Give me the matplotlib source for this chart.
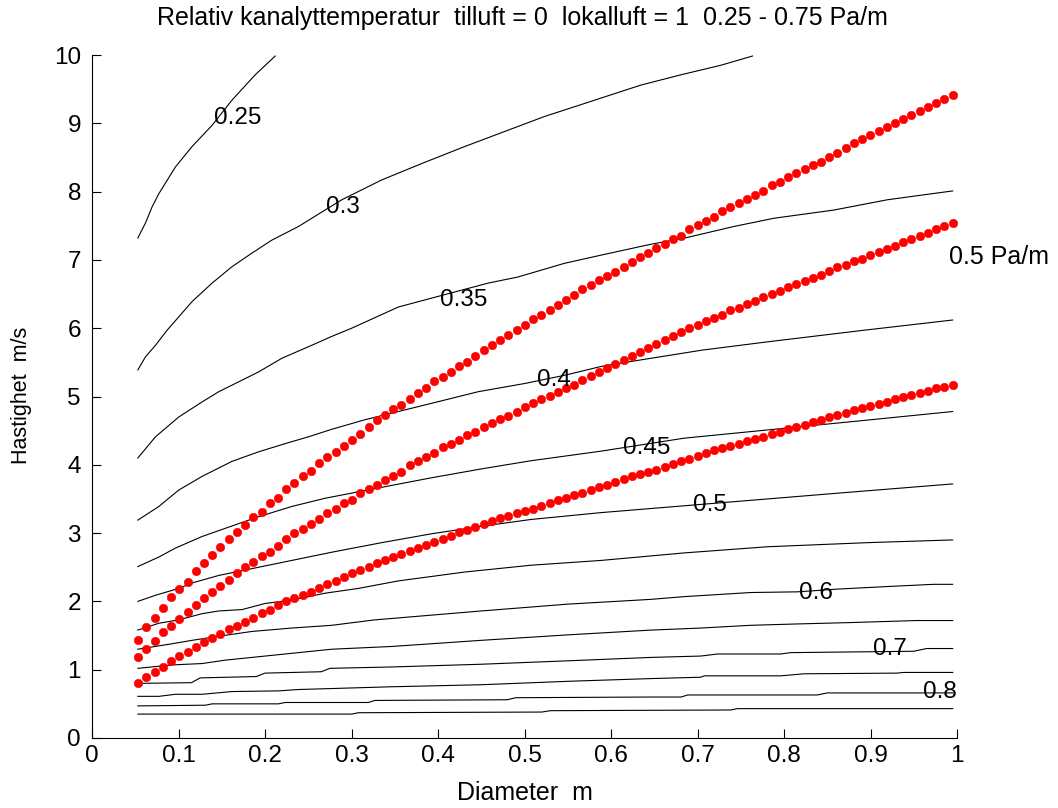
import numpy as np
import matplotlib
matplotlib.use("Agg")
import matplotlib.pyplot as plt

plt.rcParams['font.family'] = ['Liberation Sans', 'DejaVu Sans']

# ---------------- data ----------------
TITLE = "Relativ kanalyttemperatur  tilluft = 0  lokalluft = 1  0.25 - 0.75 Pa/m"
XLABEL = "Diameter  m"
YLABEL = "Hastighet  m/s"
XTICKS = [0, 0.1, 0.2, 0.3, 0.4, 0.5, 0.6, 0.7, 0.8, 0.9, 1]
XTICKLABELS = ["0", "0.1", "0.2", "0.3", "0.4", "0.5", "0.6", "0.7", "0.8", "0.9", "1"]
YTICKS = [0, 1, 2, 3, 4, 5, 6, 7, 8, 9, 10]

# contour lines (level -> diameter, velocity)
C025_D = [0.053, 0.0618, 0.0696, 0.0773, 0.0964, 0.1157, 0.1388, 0.1619, 0.1887, 0.2118]
C025_V = [7.32, 7.54, 7.78, 7.97, 8.36, 8.66, 8.97, 9.34, 9.71, 9.985]

C030_D = [0.053, 0.0618, 0.0734, 0.0868, 0.1157, 0.1388, 0.1618, 0.1849, 0.208, 0.2388, 0.2694,
          0.2887, 0.3348, 0.381, 0.4309, 0.477, 0.5232, 0.5693, 0.5886, 0.6347, 0.6808, 0.727, 0.7636]
C030_V = [5.39, 5.58, 5.75, 5.97, 6.39, 6.66, 6.90, 7.10, 7.29, 7.49, 7.73,
          7.88, 8.17, 8.41, 8.66, 8.88, 9.10, 9.29, 9.37, 9.56, 9.71, 9.85, 9.985]

C035_D = [0.053, 0.0734, 0.1003, 0.1272, 0.1465, 0.1656, 0.1926, 0.2195, 0.2541, 0.2772, 0.3002,
          0.3541, 0.3925, 0.4579, 0.4925, 0.5462, 0.5886, 0.6427, 0.6886, 0.7423, 0.7885, 0.8577,
          0.9193, 0.995]
C035_V = [4.10, 4.41, 4.70, 4.92, 5.07, 5.19, 5.36, 5.56, 5.75, 5.88, 6.00,
          6.31, 6.44, 6.66, 6.75, 6.95, 7.07, 7.22, 7.33, 7.49, 7.61, 7.73,
          7.88, 8.01]

C040_D = [0.053, 0.0773, 0.1003, 0.1272, 0.1618, 0.1926, 0.2233, 0.2503, 0.2772, 0.3156, 0.3541,
          0.3925, 0.4464, 0.5001, 0.5462, 0.5886, 0.6117, 0.7059, 0.7808, 0.8923, 0.995]
C040_V = [3.19, 3.39, 3.63, 3.83, 4.05, 4.19, 4.31, 4.41, 4.52, 4.66, 4.78,
          4.90, 5.07, 5.19, 5.31, 5.44, 5.49, 5.68, 5.80, 5.97, 6.12]

C045_D = [0.053, 0.0773, 0.0964, 0.1272, 0.1541, 0.1926, 0.231, 0.2694, 0.3348, 0.3925, 0.4502,
          0.5078, 0.5886, 0.6847, 0.7808, 0.8769, 0.995]
C045_V = [2.51, 2.65, 2.78, 2.95, 3.07, 3.24, 3.39, 3.51, 3.67, 3.81, 3.94,
          4.06, 4.20, 4.39, 4.51, 4.63, 4.78]

C050_D = [0.053, 0.0734, 0.1003, 0.1157, 0.1465, 0.1849, 0.2157, 0.2464, 0.2772, 0.3348, 0.3925,
          0.4502, 0.5078, 0.5886, 0.6463, 0.7423, 0.8577, 0.995]
C050_V = [2.00, 2.09, 2.19, 2.27, 2.38, 2.48, 2.56, 2.64, 2.72, 2.86, 2.99,
          3.10, 3.20, 3.30, 3.36, 3.46, 3.58, 3.72]

C055_D = [0.053, 0.0773, 0.1003, 0.1272, 0.1465, 0.1734, 0.2002, 0.231, 0.2694, 0.308, 0.3541,
          0.4309, 0.5078, 0.5886, 0.6847, 0.7808, 0.8962, 0.995]
C055_V = [1.58, 1.68, 1.73, 1.82, 1.86, 1.88, 1.97, 2.02, 2.12, 2.19, 2.30,
          2.43, 2.53, 2.60, 2.71, 2.80, 2.86, 2.90]

C060_D = [0.053, 0.0926, 0.1157, 0.1465, 0.1849, 0.231, 0.2772, 0.3271, 0.3464, 0.45, 0.55,
          0.6463, 0.6847, 0.7616, 0.8154, 0.8616, 0.9231, 0.973, 0.995]
C060_V = [1.30, 1.38, 1.43, 1.49, 1.56, 1.61, 1.65, 1.73, 1.75, 1.86, 1.96,
          2.03, 2.07, 2.13, 2.14, 2.18, 2.22, 2.25, 2.25]

C065_D = [0.053, 0.0926, 0.1272, 0.1541, 0.1926, 0.231, 0.2772, 0.3464, 0.45, 0.55, 0.6463,
          0.7039, 0.7616, 0.8154, 0.8769, 0.9539, 0.995]
C065_V = [1.02, 1.07, 1.09, 1.14, 1.19, 1.24, 1.30, 1.34, 1.43, 1.51, 1.58,
          1.61, 1.65, 1.67, 1.69, 1.72, 1.72]

C070_D = [0.053, 0.115, 0.125, 0.19, 0.2, 0.265, 0.275, 0.3464, 0.45, 0.55, 0.6463,
          0.7039, 0.7232, 0.7962, 0.8077, 0.95, 0.965, 0.995]
C070_V = [0.80, 0.81, 0.88, 0.90, 0.95, 0.97, 1.02, 1.04, 1.08, 1.13, 1.18,
          1.20, 1.23, 1.23, 1.25, 1.27, 1.31, 1.31]

C075_D = [0.053, 0.0773, 0.0964, 0.1272, 0.1618, 0.2157, 0.2388, 0.3464, 0.45, 0.55, 0.6463,
          0.7039, 0.7077, 0.7962, 0.823, 0.9308, 0.9384, 0.995]
C075_V = [0.61, 0.61, 0.64, 0.64, 0.68, 0.69, 0.71, 0.75, 0.78, 0.83, 0.87,
          0.89, 0.91, 0.91, 0.94, 0.95, 0.96, 0.96]

C080_D = [0.053, 0.131, 0.1388, 0.2157, 0.2233, 0.3195, 0.3271, 0.48, 0.49, 0.6463, 0.681,
          0.6886, 0.8385, 0.85, 0.995]
C080_V = [0.47, 0.48, 0.50, 0.50, 0.52, 0.52, 0.55, 0.56, 0.59, 0.60, 0.60,
          0.63, 0.63, 0.66, 0.66]

C085_D = [0.053, 0.3002, 0.308, 0.52, 0.53, 0.7385, 0.7462, 0.995]
C085_V = [0.35, 0.35, 0.37, 0.38, 0.40, 0.41, 0.43, 0.43]

# contour labels: text, diameter, velocity
LABEL_TEXT = ["0.25", "0.3", "0.35", "0.4", "0.45", "0.5", "0.6", "0.7", "0.8"]
LABEL_D = [0.1687, 0.2896, 0.430, 0.5338, 0.6414, 0.7145, 0.8371, 0.922, 0.980]
LABEL_V = [9.08, 7.78, 6.41, 5.24, 4.24, 3.41, 2.13, 1.30, 0.68]

# red dotted curves (100 points each)
DOT_D = np.linspace(0.0534, 0.9949, 100)
RED_TOP = [1.44, 1.62, 1.76, 1.91, 2.06, 2.18, 2.29, 2.44, 2.56, 2.68,
           2.79, 2.91, 3.01, 3.12, 3.23, 3.31, 3.44, 3.52, 3.64, 3.73,
           3.83, 3.91, 4.02, 4.11, 4.19, 4.28, 4.36, 4.45, 4.55, 4.65,
           4.73, 4.81, 4.87, 4.96, 5.05, 5.13, 5.22, 5.28, 5.36, 5.45,
           5.51, 5.59, 5.68, 5.75, 5.83, 5.90, 5.97, 6.05, 6.13, 6.19,
           6.27, 6.34, 6.42, 6.49, 6.57, 6.63, 6.70, 6.76, 6.83, 6.89,
           6.97, 7.04, 7.10, 7.18, 7.24, 7.30, 7.35, 7.45, 7.51, 7.57,
           7.63, 7.71, 7.77, 7.83, 7.89, 7.95, 8.01, 8.09, 8.14, 8.21,
           8.27, 8.33, 8.39, 8.44, 8.50, 8.57, 8.64, 8.71, 8.77, 8.83,
           8.88, 8.94, 9.00, 9.06, 9.12, 9.18, 9.24, 9.30, 9.36, 9.41]
RED_MID = [1.18, 1.30, 1.42, 1.55, 1.64, 1.74, 1.85, 1.95, 2.05, 2.14,
           2.23, 2.32, 2.41, 2.50, 2.58, 2.66, 2.73, 2.81, 2.91, 3.00,
           3.06, 3.14, 3.20, 3.29, 3.36, 3.44, 3.49, 3.58, 3.64, 3.70,
           3.78, 3.84, 3.90, 4.00, 4.06, 4.12, 4.18, 4.26, 4.31, 4.37,
           4.44, 4.48, 4.55, 4.61, 4.67, 4.72, 4.78, 4.84, 4.90, 4.96,
           5.01, 5.07, 5.12, 5.17, 5.24, 5.30, 5.36, 5.41, 5.48, 5.54,
           5.60, 5.65, 5.71, 5.77, 5.83, 5.88, 5.94, 6.00, 6.05, 6.10,
           6.15, 6.20, 6.26, 6.30, 6.35, 6.40, 6.45, 6.50, 6.55, 6.60,
           6.64, 6.69, 6.73, 6.78, 6.84, 6.89, 6.93, 6.98, 7.02, 7.07,
           7.11, 7.16, 7.21, 7.26, 7.30, 7.35, 7.40, 7.45, 7.49, 7.54]
RED_LOW = [0.80, 0.89, 0.97, 1.04, 1.13, 1.20, 1.26, 1.33, 1.41, 1.47,
           1.53, 1.59, 1.64, 1.70, 1.76, 1.83, 1.88, 1.95, 2.00, 2.05,
           2.09, 2.14, 2.20, 2.26, 2.30, 2.36, 2.41, 2.46, 2.51, 2.56,
           2.61, 2.65, 2.69, 2.74, 2.78, 2.83, 2.87, 2.92, 2.96, 3.01,
           3.05, 3.09, 3.13, 3.17, 3.22, 3.25, 3.29, 3.33, 3.36, 3.40,
           3.44, 3.48, 3.52, 3.56, 3.59, 3.63, 3.67, 3.70, 3.75, 3.79,
           3.83, 3.87, 3.90, 3.93, 3.97, 4.01, 4.05, 4.09, 4.13, 4.17,
           4.21, 4.24, 4.28, 4.31, 4.35, 4.38, 4.41, 4.45, 4.48, 4.52,
           4.56, 4.59, 4.62, 4.66, 4.70, 4.73, 4.76, 4.80, 4.83, 4.86,
           4.89, 4.92, 4.96, 5.00, 5.02, 5.05, 5.08, 5.12, 5.14, 5.17]

SIDE_LABEL = "0.5 Pa/m"
SIDE_D, SIDE_V = 0.9903, 7.04

# ---------------- figure ----------------
fig = plt.figure(figsize=(10.58, 8.08), dpi=100)
ax = fig.add_axes([92 / 1058, 1 - 738 / 808, 865 / 1058, 683 / 808])

contours = [(C025_D, C025_V), (C030_D, C030_V), (C035_D, C035_V), (C040_D, C040_V),
            (C045_D, C045_V), (C050_D, C050_V), (C055_D, C055_V), (C060_D, C060_V),
            (C065_D, C065_V), (C070_D, C070_V), (C075_D, C075_V), (C080_D, C080_V),
            (C085_D, C085_V)]
for d, v in contours:
    ax.plot(d, v, color='black', lw=0.8, solid_joinstyle='round')

for t, d, v in zip(LABEL_TEXT, LABEL_D, LABEL_V):
    ax.text(d, v, t, fontsize=17.5, ha='center', va='center', color='black')

for series in (RED_TOP, RED_MID, RED_LOW):
    ax.plot(DOT_D, series, linestyle='none', marker='o', ms=6.2,
            markerfacecolor='#ff0000', markeredgecolor='#ff0000', markeredgewidth=0.3)

ax.text(SIDE_D, SIDE_V, SIDE_LABEL, fontsize=18, ha='left', va='center', clip_on=False)

ax.set_xlim(0, 1)
ax.set_ylim(0, 10)
ax.set_xticks(XTICKS)
ax.set_xticklabels(XTICKLABELS)
ax.set_yticks(YTICKS)
ax.set_yticklabels([str(y) for y in YTICKS])
ax.tick_params(direction='in', length=6.5, width=0.8, labelsize=17.5, colors='black')
ax.tick_params(axis='x', pad=5)
ax.tick_params(axis='y', pad=8)
for s in ('top', 'right'):
    ax.spines[s].set_visible(False)
for s in ('left', 'bottom'):
    ax.spines[s].set_linewidth(0.8)

ax.set_xlabel(XLABEL, fontsize=18, va='center')
ax.xaxis.set_label_coords(0.5, -0.0805)
ax.set_ylabel(YLABEL, fontsize=15.5, va='center')
ax.yaxis.set_label_coords(-0.081, 0.502)

fig.text(0.4934, 1 - 18 / 808, TITLE, fontsize=18, ha='center', va='center')

fig.savefig("out.png", dpi=100)
